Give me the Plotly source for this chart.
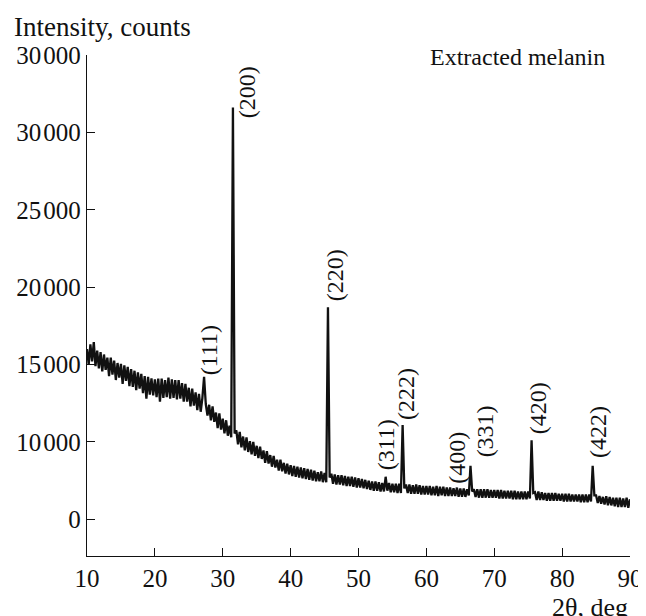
import plotly.graph_objects as go

# XRD pattern of extracted melanin, 0.25 deg step from 10 to 90 deg
intensity = [
    16000, 15000, 16300, 15200,
    16450, 14900, 15900, 14750,
    15800, 14550, 15650, 14650,
    15450, 14250, 15450, 14350,
    15250, 14000, 15100, 14150,
    15050, 13750, 14950, 13950,
    14850, 13600, 14700, 13550,
    14600, 13350, 14500, 13450,
    14400, 13150, 14250, 12800,
    14200, 13050, 14100, 13000,
    14050, 12900, 14100, 12600,
    14100, 12850, 14000, 12900,
    14150, 12800, 14050, 12850,
    14000, 12750, 14000, 12800,
    13800, 12600, 13750, 12600,
    13500, 12300, 13450, 12350,
    13200, 12050, 13100, 11950,
    12850, 14200, 12450, 11700,
    12400, 11400, 12300, 11300,
    11900, 10900, 11850, 10800,
    11500, 10550, 11400, 10400,
    11050, 10300, 31600, 10550,
    10750, 9850, 10650, 9650,
    10350, 9450, 10300, 9350,
    10050, 9200, 10000, 9100,
    9750, 8950, 9700, 8900,
    9450, 8650, 9400, 8600,
    9150, 8400, 9100, 8350,
    8850, 8150, 8850, 8100,
    8650, 7950, 8600, 7900,
    8500, 7800, 8450, 7750,
    8400, 7700, 8350, 7650,
    8300, 7600, 8250, 7550,
    8200, 7500, 8150, 7450,
    8050, 7450, 8100, 7400,
    8000, 7400, 18700, 7700,
    7950, 7300, 7900, 7250,
    7850, 7250, 7850, 7200,
    7800, 7150, 7750, 7150,
    7750, 7100, 7700, 7050,
    7650, 7050, 7600, 7000,
    7550, 6950, 7500, 6900,
    7450, 6850, 7450, 6850,
    7400, 6800, 7350, 6800,
    7750, 6850, 7350, 6750,
    7300, 6750, 7300, 6700,
    7300, 6700, 11100, 7000,
    7250, 6700, 7250, 6650,
    7200, 6650, 7250, 6650,
    7200, 6600, 7150, 6600,
    7150, 6600, 7150, 6550,
    7100, 6550, 7150, 6500,
    7100, 6550, 7100, 6500,
    7050, 6500, 7050, 6500,
    7000, 6500, 7050, 6450,
    7000, 6450, 7000, 6450,
    6950, 6550, 8450, 6800,
    6950, 6450, 6950, 6400,
    6950, 6400, 6950, 6400,
    6950, 6400, 6900, 6400,
    6900, 6400, 6900, 6350,
    6900, 6350, 6850, 6350,
    6850, 6350, 6850, 6300,
    6850, 6300, 6800, 6300,
    6800, 6300, 6800, 6300,
    6800, 6350, 10100, 6700,
    6750, 6250, 6800, 6250,
    6750, 6250, 6700, 6200,
    6700, 6200, 6700, 6200,
    6700, 6200, 6650, 6200,
    6650, 6150, 6650, 6150,
    6650, 6150, 6600, 6150,
    6600, 6150, 6600, 6100,
    6600, 6100, 6600, 6100,
    6600, 6150, 8450, 6550,
    6550, 6050, 6500, 6000,
    6450, 5950, 6500, 5900,
    6450, 5900, 6400, 5850,
    6400, 5800, 6400, 5800,
    6350, 5800, 6400, 5750,
    6300,
]
two_theta = [10 + 0.25 * i for i in range(len(intensity))]

peak_labels = ["(111)", "(200)", "(220)", "(311)", "(222)", "(400)", "(331)", "(420)", "(422)"]
label_x = [28.0, 33.6, 46.6, 54.1, 57.0, 64.5, 68.7, 76.5, 85.3]
label_y = [15940, 32610, 20790, 9806, 13100, 8966, 10710, 12196, 10646]

y_tickvals = [5000, 10000, 15000, 20000, 25000, 30000, 35000]
y_ticktext = ["0", "10\u200a000", "15\u200a000", "20\u200a000", "25\u200a000", "30\u200a000", "30\u200a000"]
x_tickvals = [10, 20, 30, 40, 50, 60, 70, 80, 90]

FONT = "Liberation Serif"

fig = go.Figure(go.Scatter(x=two_theta, y=intensity, mode="lines",
                           line=dict(color="#111111", width=2.3)))

for lab, lx, ly in zip(peak_labels, label_x, label_y):
    fig.add_annotation(x=lx, y=ly, text=lab, textangle=-90, showarrow=False,
                       font=dict(family=FONT, size=24, color="#111111"))

fig.add_annotation(x=60.3, y=34850, text="Extracted melanin", showarrow=False,
                   xanchor="left", yanchor="middle",
                   font=dict(family=FONT, size=24, color="#111111"))
fig.add_annotation(xref="paper", yref="paper", x=-0.1375, y=1.056,
                   text="Intensity, counts", showarrow=False,
                   xanchor="left", yanchor="middle",
                   font=dict(family=FONT, size=27, color="#111111"))
fig.add_annotation(xref="paper", yref="paper", x=1.0, y=-0.102,
                   text="2\u03b8, deg", showarrow=False,
                   xanchor="right", yanchor="middle",
                   font=dict(family=FONT, size=26, color="#111111"))

# the page body adds an 8 px margin, so the figure is 8 px smaller
fig.update_layout(
    width=638, height=608,
    margin=dict(l=79, r=16, t=47, b=60),
    paper_bgcolor="white", plot_bgcolor="white",
    showlegend=False,
    font=dict(family=FONT, size=25, color="#111111"),
    xaxis=dict(range=[10, 90], tickvals=x_tickvals, ticks="inside", ticklen=8,
               tickcolor="#111111", showline=True, linecolor="#111111",
               linewidth=1.3, showgrid=False, zeroline=False, automargin=False),
    yaxis=dict(range=[2630, 35000], tickvals=y_tickvals, ticktext=y_ticktext,
               ticks="inside", ticklen=8, tickcolor="#111111", showline=True,
               linecolor="#111111", linewidth=1.3, showgrid=False,
               zeroline=False, automargin=False),
)

fig.write_html("out.html")
